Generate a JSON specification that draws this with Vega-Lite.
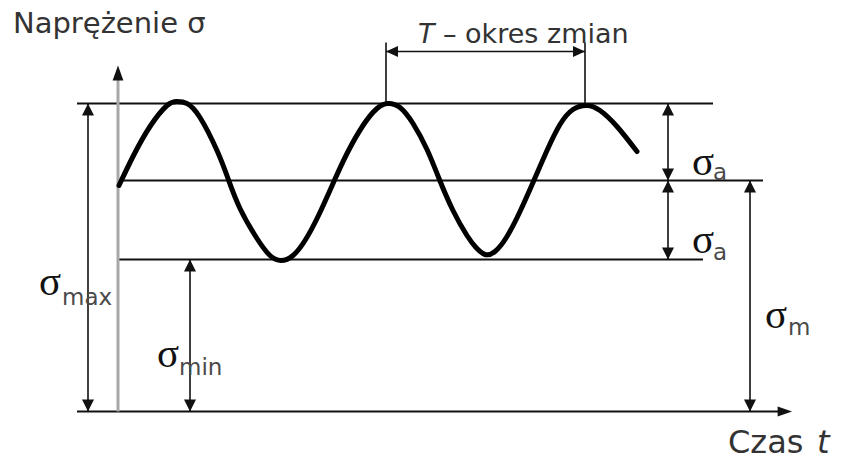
{
  "$schema": "https://vega.github.io/schema/vega-lite/v6.json",
  "width": 841,
  "height": 460,
  "padding": 0,
  "autosize": {"type": "none"},
  "background": "white",
  "config": {"view": {"stroke": null}},
  "datasets": {
    "curve": [
      {"t": 0, "s": 226}, {"t": 14, "s": 255}, {"t": 31, "s": 285}, {"t": 48, "s": 306},
      {"t": 58, "s": 310}, {"t": 68, "s": 308}, {"t": 81, "s": 294}, {"t": 98, "s": 261},
      {"t": 109, "s": 233}, {"t": 121, "s": 203}, {"t": 138, "s": 173}, {"t": 151, "s": 156},
      {"t": 162, "s": 151}, {"t": 174, "s": 156}, {"t": 186, "s": 171}, {"t": 199, "s": 195},
      {"t": 214, "s": 228}, {"t": 228, "s": 258}, {"t": 244, "s": 286},
      {"t": 258, "s": 303}, {"t": 269, "s": 308}, {"t": 281, "s": 304}, {"t": 294, "s": 288},
      {"t": 308, "s": 262}, {"t": 320, "s": 233}, {"t": 334, "s": 201}, {"t": 348, "s": 176},
      {"t": 357, "s": 164}, {"t": 366, "s": 157}, {"t": 376, "s": 160}, {"t": 388, "s": 175},
      {"t": 401, "s": 200}, {"t": 414, "s": 229}, {"t": 428, "s": 261}, {"t": 441, "s": 287},
      {"t": 454, "s": 302}, {"t": 468, "s": 306}, {"t": 481, "s": 301}, {"t": 498, "s": 285},
      {"t": 518, "s": 260}
    ],
    "levels": [
      {"name": "max", "t": -42, "t2": 594, "s": 308},
      {"name": "mean", "t": 0, "t2": 644, "s": 231},
      {"name": "min", "t": 0, "t2": 584, "s": 152},
      {"name": "time axis", "t": -42, "t2": 665, "s": 0}
    ],
    "dims": [
      {"name": "sigma max", "t": -31, "s": 0, "s2": 308},
      {"name": "sigma min", "t": 71, "s": 0, "s2": 152},
      {"name": "sigma a upper", "t": 549, "s": 231, "s2": 308},
      {"name": "sigma a lower", "t": 549, "s": 152, "s2": 231},
      {"name": "sigma m", "t": 631, "s": 0, "s2": 231},
      {"name": "period start", "t": 267, "s": 308, "s2": 369},
      {"name": "period end", "t": 466, "s": 308, "s2": 369}
    ],
    "period": [{"t": 267, "t2": 466, "s": 360}],
    "heads": [
      {"t": -31, "s": 308, "dir": "up"}, {"t": -31, "s": 0, "dir": "down"},
      {"t": 71, "s": 152, "dir": "up"}, {"t": 71, "s": 0, "dir": "down"},
      {"t": 549, "s": 308, "dir": "up"}, {"t": 549, "s": 231, "dir": "down"},
      {"t": 549, "s": 231, "dir": "up"}, {"t": 549, "s": 152, "dir": "down"},
      {"t": 631, "s": 231, "dir": "up"}, {"t": 631, "s": 0, "dir": "down"},
      {"t": 267, "s": 360, "dir": "left"}, {"t": 466, "s": 360, "dir": "right"},
      {"t": -1, "s": 346, "dir": "axis-up"}, {"t": 673, "s": 0, "dir": "axis-right"}
    ],
    "sigmas": [
      {"t": -80, "s": 116.5, "sym": "σ", "sub": "max", "st": -57, "ss": 106.5},
      {"t": 38, "s": 44.5, "sym": "σ", "sub": "min", "st": 60, "ss": 36.5},
      {"t": 573, "s": 236.5, "sym": "σ", "sub": "a", "st": 594, "ss": 231.5},
      {"t": 573, "s": 158.5, "sym": "σ", "sub": "a", "st": 594, "ss": 151.5},
      {"t": 646, "s": 83.5, "sym": "σ", "sub": "m", "st": 669, "ss": 76.5}
    ],
    "words": [
      {"t": -106, "s": 378.5, "text": "Naprężenie σ", "size": "title", "italic": false},
      {"t": 299, "s": 368.5, "text": "T", "size": "note", "italic": true},
      {"t": 324, "s": 368.5, "text": "– okres zmian", "size": "note", "italic": false},
      {"t": 609, "s": -41.5, "text": "Czas", "size": "axis", "italic": false},
      {"t": 698, "s": -41.5, "text": "t", "size": "axis", "italic": true}
    ]
  },
  "layer": [
    {
      "data": {"name": "levels"},
      "mark": {"type": "rule", "color": "#111", "strokeWidth": 2},
      "encoding": {
        "x": {"field": "t", "type": "quantitative", "scale": {"domain": [-119, 722], "nice": false, "zero": false}, "axis": null},
        "x2": {"field": "t2"},
        "y": {"field": "s", "type": "quantitative", "scale": {"domain": [-48.5, 411.5], "nice": false, "zero": false}, "axis": null}
      }
    },
    {
      "data": {"values": [{"t": -1, "s": 0, "s2": 336}]},
      "mark": {"type": "rule", "color": "#a8a8a8", "strokeWidth": 3},
      "encoding": {
        "x": {"field": "t", "type": "quantitative"},
        "y": {"field": "s", "type": "quantitative"},
        "y2": {"field": "s2"}
      }
    },
    {
      "data": {"name": "dims"},
      "mark": {"type": "rule", "color": "#111", "strokeWidth": 1.6},
      "encoding": {
        "x": {"field": "t", "type": "quantitative"},
        "y": {"field": "s", "type": "quantitative"},
        "y2": {"field": "s2"}
      }
    },
    {
      "data": {"name": "period"},
      "mark": {"type": "rule", "color": "#111", "strokeWidth": 1.6},
      "encoding": {
        "x": {"field": "t", "type": "quantitative"},
        "x2": {"field": "t2"},
        "y": {"field": "s", "type": "quantitative"}
      }
    },
    {
      "data": {"name": "heads"},
      "mark": {"type": "point", "filled": true, "color": "#111", "opacity": 1, "size": 576, "strokeWidth": 0},
      "encoding": {
        "x": {"field": "t", "type": "quantitative"},
        "y": {"field": "s", "type": "quantitative"},
        "shape": {
          "field": "dir", "type": "nominal", "legend": null,
          "scale": {
            "domain": ["up", "down", "left", "right", "axis-up", "axis-right"],
            "range": [
              "M0,0L-0.5,1L0.5,1Z",
              "M0,0L-0.5,-1L0.5,-1Z",
              "M0,0L1,-0.45L1,0.45Z",
              "M0,0L-1,-0.45L-1,0.45Z",
              "M0,0L-0.45,1.25L0.45,1.25Z",
              "M0,0L-1.2,-0.42L-1.2,0.42Z"
            ]
          }
        }
      }
    },
    {
      "data": {"name": "curve"},
      "mark": {"type": "line", "color": "#000", "strokeWidth": 5, "interpolate": "natural", "strokeCap": "round", "strokeJoin": "round"},
      "encoding": {
        "x": {"field": "t", "type": "quantitative"},
        "y": {"field": "s", "type": "quantitative"}
      }
    },
    {
      "data": {"name": "sigmas"},
      "mark": {"type": "text", "font": "Liberation Serif", "fontSize": 41, "align": "left", "baseline": "alphabetic", "color": "#111"},
      "encoding": {
        "x": {"field": "t", "type": "quantitative"},
        "y": {"field": "s", "type": "quantitative"},
        "text": {"field": "sym"}
      }
    },
    {
      "data": {"name": "sigmas"},
      "mark": {"type": "text", "font": "DejaVu Sans", "fontSize": 23, "align": "left", "baseline": "alphabetic", "color": "#4a4a4a"},
      "encoding": {
        "x": {"field": "st", "type": "quantitative"},
        "y": {"field": "ss", "type": "quantitative"},
        "text": {"field": "sub"}
      }
    },
    {
      "data": {"name": "words"},
      "transform": [{"filter": "datum.size == 'title'"}],
      "mark": {"type": "text", "font": "DejaVu Sans", "fontSize": 29, "align": "left", "baseline": "alphabetic", "color": "#333"},
      "encoding": {
        "x": {"field": "t", "type": "quantitative"},
        "y": {"field": "s", "type": "quantitative"},
        "text": {"field": "text"}
      }
    },
    {
      "data": {"name": "words"},
      "transform": [{"filter": "datum.size == 'note' && !datum.italic"}],
      "mark": {"type": "text", "font": "DejaVu Sans", "fontSize": 27, "align": "left", "baseline": "alphabetic", "color": "#333"},
      "encoding": {
        "x": {"field": "t", "type": "quantitative"},
        "y": {"field": "s", "type": "quantitative"},
        "text": {"field": "text"}
      }
    },
    {
      "data": {"name": "words"},
      "transform": [{"filter": "datum.size == 'note' && datum.italic"}],
      "mark": {"type": "text", "font": "DejaVu Sans", "fontSize": 27, "fontStyle": "italic", "align": "left", "baseline": "alphabetic", "color": "#333"},
      "encoding": {
        "x": {"field": "t", "type": "quantitative"},
        "y": {"field": "s", "type": "quantitative"},
        "text": {"field": "text"}
      }
    },
    {
      "data": {"name": "words"},
      "transform": [{"filter": "datum.size == 'axis' && !datum.italic"}],
      "mark": {"type": "text", "font": "DejaVu Sans", "fontSize": 32, "align": "left", "baseline": "alphabetic", "color": "#333"},
      "encoding": {
        "x": {"field": "t", "type": "quantitative"},
        "y": {"field": "s", "type": "quantitative"},
        "text": {"field": "text"}
      }
    },
    {
      "data": {"name": "words"},
      "transform": [{"filter": "datum.size == 'axis' && datum.italic"}],
      "mark": {"type": "text", "font": "DejaVu Sans", "fontSize": 32, "fontStyle": "italic", "align": "left", "baseline": "alphabetic", "color": "#333"},
      "encoding": {
        "x": {"field": "t", "type": "quantitative"},
        "y": {"field": "s", "type": "quantitative"},
        "text": {"field": "text"}
      }
    }
  ]
}
